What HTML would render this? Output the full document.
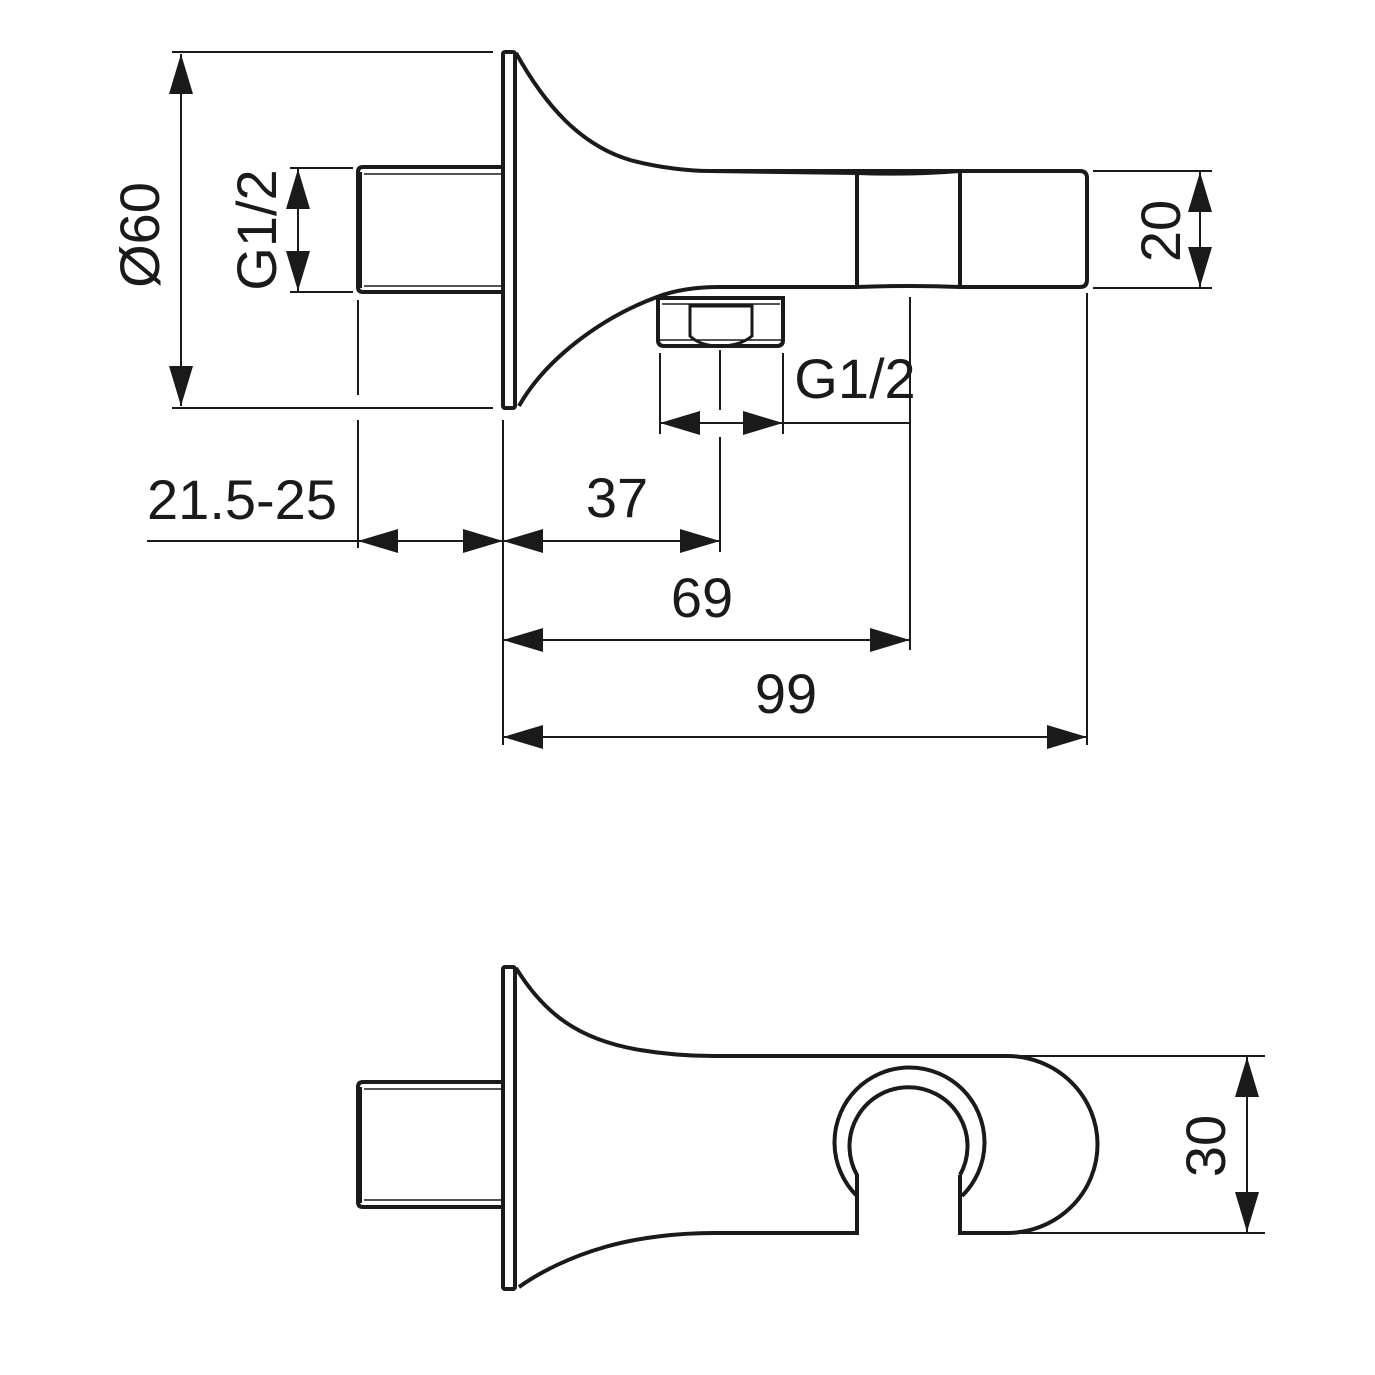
<!DOCTYPE html>
<html><head><style>html,body{margin:0;padding:0;background:#fff}svg{display:block}text{font-family:"Liberation Sans",Arial,sans-serif;fill:#1a1a1a}</style></head>
<body>
<svg width="1375" height="1375" viewBox="0 0 1375 1375" xmlns="http://www.w3.org/2000/svg">
<defs>
<marker id="a" viewBox="0 0 40 24" refX="40" refY="12" markerWidth="40" markerHeight="24" markerUnits="userSpaceOnUse" orient="auto-start-reverse"><path d="M0,0 L40,12 L0,24 Z" fill="#1a1a1a"/></marker>
</defs>
<g stroke="#1a1a1a" fill="none" stroke-linecap="butt">
<!-- ===== TOP VIEW ===== -->
<g stroke-width="4">
<rect x="503" y="52" width="12" height="356" rx="2"/>
<path d="M358,172 Q358,167 363,167 L503,167 M358,172 L358,287 Q358,292 363,292 L503,292"/>
<path d="M516,53 C545,105 580,145 630,160 C660,168 690,171 710,171 L1080,171 Q1087,171 1087,178 L1087,280 Q1087,287 1080,287 L960,287 Q910,285 857,287 L720,287 C690,287 670,292 657,297 C600,318 545,360 519,406"/>
<path d="M710,171 L857,173 Q910,175 960,171" />
<line x1="857" y1="173" x2="857" y2="287"/>
<line x1="960" y1="171" x2="960" y2="287"/>
<path d="M658,298 L783,298 L783,340 Q783,346 777,346 L664,346 Q658,346 658,340 Z"/>
<path d="M690,306 L752,306 L752,336 Q740,346 720,346 Q700,346 690,336 Z" stroke-width="3"/>
</g>
<line x1="364" y1="174" x2="503" y2="174" stroke-width="1.5"/>
<line x1="364" y1="286" x2="503" y2="286" stroke-width="1.5"/>
<line x1="662" y1="304" x2="780" y2="304" stroke-width="1.5"/>
<line x1="660" y1="340" x2="781" y2="340" stroke-width="1.5"/>
<line x1="360" y1="172" x2="360" y2="288" stroke-width="4"/>
<!-- dimension lines -->
<g stroke-width="2">
<line x1="172" y1="52" x2="493" y2="52"/>
<line x1="172" y1="408" x2="493" y2="408"/>
<line x1="181" y1="54" x2="181" y2="406" marker-start="url(#a)" marker-end="url(#a)"/>
<line x1="290" y1="168" x2="353" y2="168"/>
<line x1="290" y1="292" x2="353" y2="292"/>
<line x1="298" y1="169" x2="298" y2="291" marker-start="url(#a)" marker-end="url(#a)"/>
<line x1="1093" y1="171" x2="1212" y2="171"/>
<line x1="1093" y1="288" x2="1212" y2="288"/>
<line x1="1200" y1="172" x2="1200" y2="287" marker-start="url(#a)" marker-end="url(#a)"/>
<line x1="358" y1="300" x2="358" y2="395"/>
<line x1="358" y1="420" x2="358" y2="548"/>
<line x1="503" y1="420" x2="503" y2="745"/>
<line x1="660" y1="353" x2="660" y2="434"/>
<line x1="783" y1="353" x2="783" y2="434"/>
<line x1="720" y1="350" x2="720" y2="410"/>
<line x1="720" y1="437" x2="720" y2="552"/>
<line x1="910" y1="297" x2="910" y2="650"/>
<line x1="1087" y1="293" x2="1087" y2="745"/>
<line x1="660" y1="423" x2="720" y2="423" marker-start="url(#a)"/>
<line x1="720" y1="423" x2="783" y2="423" marker-end="url(#a)"/>
<line x1="783" y1="423" x2="910" y2="423"/>
<line x1="147" y1="541" x2="358" y2="541"/>
<line x1="358" y1="541" x2="503" y2="541" marker-start="url(#a)" marker-end="url(#a)"/>
<line x1="503" y1="541" x2="720" y2="541" marker-start="url(#a)" marker-end="url(#a)"/>
<line x1="503" y1="640" x2="910" y2="640" marker-start="url(#a)" marker-end="url(#a)"/>
<line x1="503" y1="737" x2="1087" y2="737" marker-start="url(#a)" marker-end="url(#a)"/>
</g>
<!-- ===== BOTTOM VIEW ===== -->
<g stroke-width="4">
<rect x="503" y="967" width="12" height="322" rx="2"/>
<path d="M358,1087 Q358,1082 363,1082 L503,1082 M358,1087 L358,1202 Q358,1207 363,1207 L503,1207"/>
<path d="M516,968 C545,1015 580,1040 640,1050 C670,1055 695,1056 713,1056 L1007,1056 A90,88 0 0 1 1007,1233 L960,1233 L960,1175"/>
<path d="M960,1175 A59,59 0 1 0 857,1175 L857,1233 L713,1233 C680,1233 640,1237 605,1247 C570,1257 540,1272 519,1287"/>
<path d="M857,1196 A75,75 0 1 1 962,1196"/>
</g>
<line x1="364" y1="1089" x2="503" y2="1089" stroke-width="1.5"/>
<line x1="364" y1="1200" x2="503" y2="1200" stroke-width="1.5"/>
<line x1="360" y1="1087" x2="360" y2="1203" stroke-width="4"/>
<g stroke-width="2">
<line x1="1010" y1="1056" x2="1265" y2="1056"/>
<line x1="1010" y1="1233" x2="1265" y2="1233"/>
<line x1="1247" y1="1057" x2="1247" y2="1232" marker-start="url(#a)" marker-end="url(#a)"/>
</g>
</g>
<!-- texts -->
<g font-size="56">
<text transform="translate(159,235) rotate(-90)" text-anchor="middle">Ø60</text>
<text transform="translate(276,230) rotate(-90)" text-anchor="middle">G1/2</text>
<text transform="translate(1180,231) rotate(-90)" text-anchor="middle">20</text>
<text transform="translate(1225,1146) rotate(-90)" text-anchor="middle">30</text>
<text x="855" y="398" text-anchor="middle">G1/2</text>
<text x="242" y="519" text-anchor="middle">21.5-25</text>
<text x="617" y="517" text-anchor="middle">37</text>
<text x="702" y="617" text-anchor="middle">69</text>
<text x="786" y="713" text-anchor="middle">99</text>
</g>
</svg>
</body></html>
